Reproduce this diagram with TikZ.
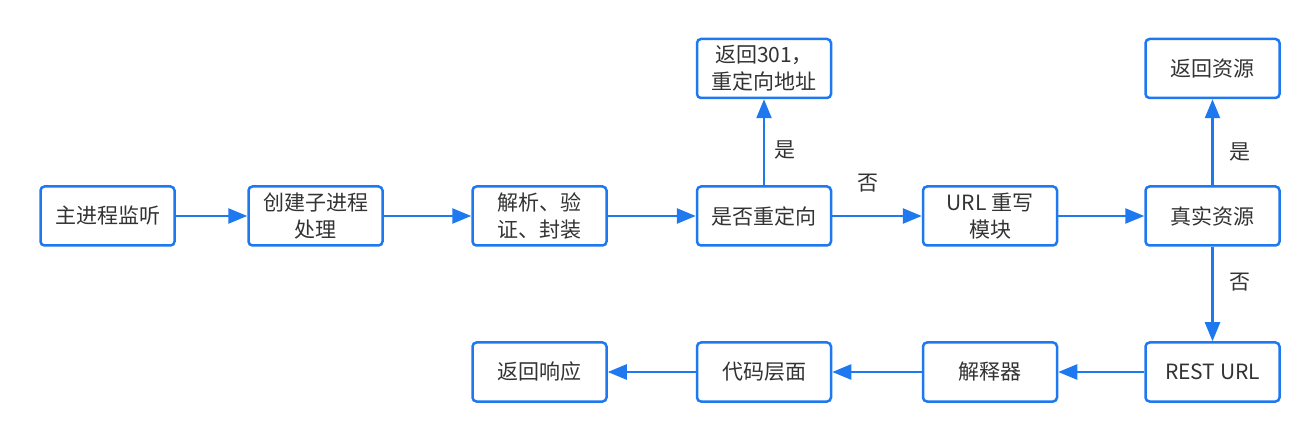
\documentclass[tikz,border=0pt]{standalone}
\usepackage{fontspec}
\setmainfont{Noto Sans CJK SC}
\usetikzlibrary{arrows.meta}
\definecolor{bl}{HTML}{1E78F0}
\definecolor{tx}{HTML}{333333}
\begin{document}
\begin{tikzpicture}[x=1pt,y=-1pt,
  box/.style={draw=bl,line width=2.5pt,rounded corners=4pt,minimum width=134pt,minimum height=59pt,
    align=center,font=\fontsize{21}{27}\selectfont,text=tx,inner sep=0pt,fill=white},
  arr/.style={draw=bl,line width=2.5pt,-{Triangle[length=19pt,width=15pt]}},
  lab/.style={font=\fontsize{21}{24}\selectfont,text=tx}]
\useasboundingbox (0,0) rectangle (1306,435);
\node[box] (a) at (107.5,216) {主进程监听};
\node[box] (b) at (315.5,216) {创建子进程\\处理};
\node[box] (c) at (539.5,216) {解析、验\\证、封装};
\node[box] (d) at (764,216) {是否重定向};
\node[box] (e) at (990,216) {URL 重写\\模块};
\node[box] (f) at (1212.5,216) {真实资源};
\node[box] (g) at (764,68.5) {返回301，\\重定向地址};
\node[box] (h) at (1212.5,68.5) {返回资源};
\node[box] (i) at (1212.5,372) {REST URL};
\node[box] (j) at (990,372) {解释器};
\node[box] (k) at (764,372) {代码层面};
\node[box] (l) at (539.5,372) {返回响应};
\draw[arr] (a) -- (b);
\draw[arr] (b) -- (c);
\draw[arr] (c) -- (d);
\draw[arr] (d) -- (e);
\draw[arr] (e) -- (f);
\draw[arr] (d) -- (g);
\draw[arr] (f) -- (h);
\draw[arr] (f) -- (i);
\draw[arr] (i) -- (j);
\draw[arr] (j) -- (k);
\draw[arr] (k) -- (l);
\node[lab] (l1) at (785,150) {是};
\node[lab] (l2) at (868,183) {否};
\node[lab] (l3) at (1240,152) {是};
\node[lab] (l4) at (1240,282) {否};
\end{tikzpicture}
\end{document}
